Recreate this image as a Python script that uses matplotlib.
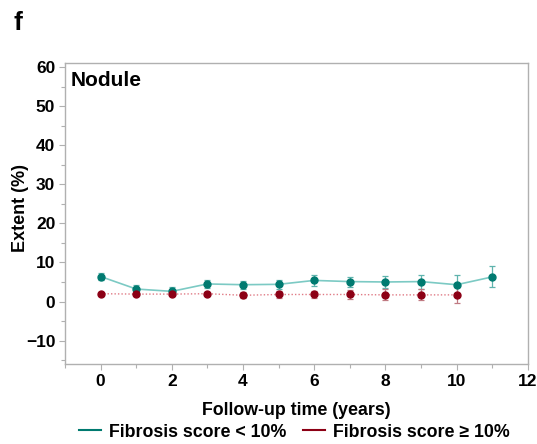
import matplotlib
matplotlib.use("Agg")
import matplotlib.pyplot as plt
from matplotlib.ticker import MultipleLocator

plt.rcParams['font.family'] = ['Liberation Sans', 'DejaVu Sans']
plt.rcParams['font.weight'] = 'bold'

# data
years_low = [0, 1, 2, 3, 4, 5, 6, 7, 8, 9, 10, 11]
extent_low = [6.4, 3.2, 2.6, 4.5, 4.3, 4.4, 5.4, 5.1, 5.0, 5.1, 4.3, 6.3]
err_low = [0.95, 1.0, 1.0, 1.1, 1.0, 1.15, 1.4, 1.3, 1.45, 1.8, 2.6, 2.7]

years_high = [0, 1, 2, 3, 4, 5, 6, 7, 8, 9, 10]
extent_high = [2.0, 1.9, 1.9, 2.0, 1.6, 1.8, 1.8, 1.8, 1.7, 1.7, 1.7]
err_high = [0.2, 0.3, 0.3, 0.3, 0.75, 0.8, 0.9, 1.2, 1.4, 1.4, 2.1]

label_low = 'Fibrosis score < 10%'
label_high = 'Fibrosis score \u2265 10%'

teal_dark = '#007a70'
teal_line = '#7ccac4'
red_dark = '#8c0015'
red_line = '#e07a85'

fig = plt.figure(figsize=(5.37, 4.44), dpi=100)
ax = fig.add_axes([0.121, 0.180, 0.862, 0.678])

ax.plot(years_low, extent_low, color=teal_line, lw=1.2, zorder=2)
ax.errorbar(years_low, extent_low, yerr=err_low, fmt='o', ms=5,
            color=teal_dark, ecolor='#5fb3ad', elinewidth=0.9, capsize=2.3,
            capthick=0.9, zorder=3)

ax.plot(years_high, extent_high, color=red_line, lw=1.0, ls=(0, (1, 1.5)), zorder=2)
ax.errorbar(years_high, extent_high, yerr=err_high, fmt='o', ms=5,
            color=red_dark, ecolor='#c07a82', elinewidth=0.9, capsize=2.3,
            capthick=0.9, zorder=3)

ax.set_xlim(-1, 12)
ax.set_ylim(-16, 61)
ax.xaxis.set_major_locator(MultipleLocator(2))
ax.xaxis.set_minor_locator(MultipleLocator(1))
ax.yaxis.set_minor_locator(MultipleLocator(5))
ax.set_yticks([-10, 0, 10, 20, 30, 40, 50, 60])
ax.set_yticklabels(['\u221210', '0', '10', '20', '30', '40', '50', '60'])

for s in ax.spines.values():
    s.set_color('#b0b0b0')
    s.set_linewidth(1.0)
ax.tick_params(which='both', color='#b0b0b0', labelsize=12.5, width=0.8)
ax.tick_params(which='major', length=4, pad=3)
ax.tick_params(which='minor', length=3)
for lbl in ax.get_xticklabels() + ax.get_yticklabels():
    lbl.set_fontweight('bold')

ax.set_xlabel('Follow-up time (years)', fontsize=12.8, fontweight='bold')
ax.xaxis.set_label_coords(0.5, -0.125)
ax.set_ylabel('Extent (%)', fontsize=13, fontweight='bold')
ax.yaxis.set_label_coords(-0.078, 0.52)

ax.text(0.012, 0.975, 'Nodule', transform=ax.transAxes, fontsize=15,
        fontweight='bold', va='top', ha='left')
fig.text(0.026, 0.975, 'f', fontsize=19, fontweight='bold', va='top', ha='left')

h1, = ax.plot([], [], color=teal_dark, lw=1.5)
h2, = ax.plot([], [], color=red_dark, lw=1.5)
fig.legend([h1, h2], [label_low, label_high], loc='center',
           bbox_to_anchor=(0.548, 0.027), ncol=2, frameon=False,
           prop={'size': 12.8, 'weight': 'bold'},
           handlelength=1.25, handletextpad=0.45, columnspacing=0.95,
           borderpad=0, borderaxespad=0)

fig.savefig('out.png', dpi=100)
